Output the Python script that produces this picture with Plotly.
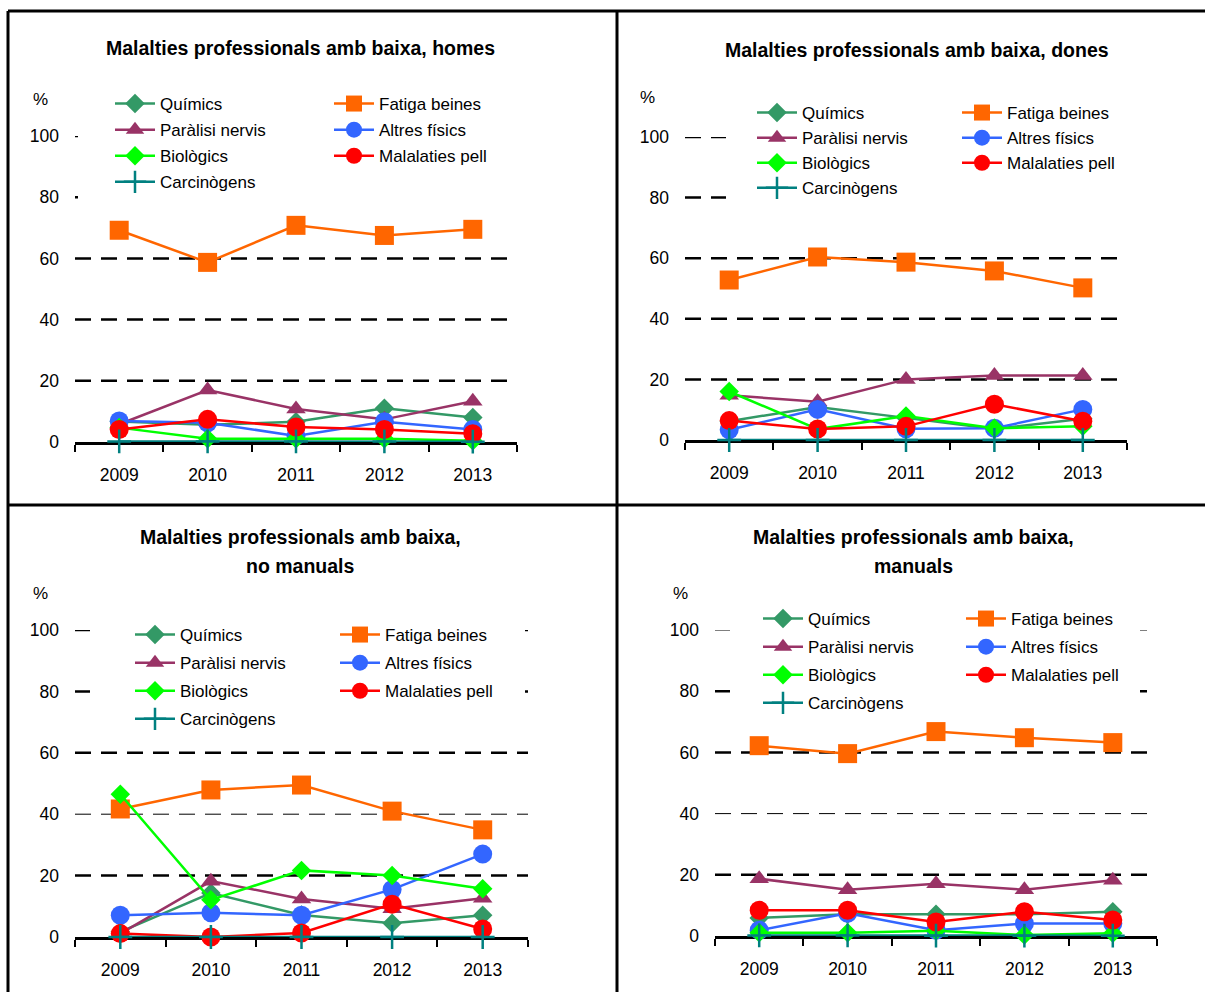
import plotly.graph_objects as go

# ---- data (percent of occupational illnesses with sick leave) ----
years = ["2009", "2010", "2011", "2012", "2013"]

panel_titles = [
    ["Malalties professionals amb baixa, homes"],
    ["Malalties professionals amb baixa, dones"],
    ["Malalties professionals amb baixa,", "no manuals"],
    ["Malalties professionals amb baixa,", "manuals"],
]

# one row per panel: homes, dones, no manuals, manuals
quimics = [
    [6.7, 5.6, 6.6, 11.0, 8.0],
    [6.2, 10.9, 7.3, 3.6, 7.0],
    [1.7, 14.3, 7.2, 4.5, 7.1],
    [5.9, 7.1, 7.1, 7.1, 7.9],
]
fatiga = [
    [69.2, 58.7, 70.8, 67.5, 69.5],
    [52.8, 60.4, 58.7, 55.8, 50.2],
    [41.7, 47.9, 49.5, 41.0, 34.9],
    [62.2, 59.6, 66.8, 64.8, 63.2],
]
paralisi = [
    [5.8, 17.0, 10.8, 7.4, 13.3],
    [14.8, 12.6, 20.0, 21.3, 21.3],
    [1.1, 18.2, 12.4, 9.2, 12.6],
    [18.7, 15.1, 17.1, 15.1, 18.2],
]
altres = [
    [6.9, 6.3, 2.0, 6.6, 4.1],
    [3.4, 10.1, 3.7, 3.9, 10.1],
    [7.1, 7.9, 7.1, 15.5, 27.0],
    [1.9, 7.4, 1.9, 4.1, 4.1],
]
biologics = [
    [4.7, 1.1, 1.1, 1.1, 0.4],
    [16.0, 3.6, 7.9, 3.9, 4.5],
    [46.5, 12.1, 21.7, 20.0, 15.7],
    [1.1, 1.1, 1.7, 0.3, 0.9],
]
pell = [
    [4.1, 7.4, 4.9, 4.1, 2.7],
    [6.4, 3.6, 4.5, 11.8, 6.2],
    [1.1, 0.0, 1.3, 10.7, 2.6],
    [8.4, 8.4, 4.6, 7.9, 5.2],
]
carcinogens = [
    [0.2, 0.2, 0.2, 0.2, 0.1],
    [0.0, 0.0, 0.0, 0.0, 0.0],
    [0.0, 0.0, 0.0, 0.0, 0.0],
    [0.2, 0.2, 0.1, 0.1, 0.1],
]

y_ticks = [0, 20, 40, 60, 80, 100]

# ---- styling ----
W, H = 1205, 992
FONT = "Liberation Sans, Arial, sans-serif"

series = [
    # name, values, color, symbol, size, legend column (0 left / 1 right)
    ("Químics", quimics, "#339966", "diamond", 15, 0),
    ("Fatiga beines", fatiga, "#FF6600", "square", 19, 1),
    ("Paràlisi nervis", paralisi, "#993366", "triangle-up", 17, 0),
    ("Altres físics", altres, "#3366FF", "circle", 19, 1),
    ("Biològics", biologics, "#00FF00", "diamond", 15, 0),
    ("Malalaties pell", pell, "#FF0000", "circle", 19, 1),
    ("Carcinògens", carcinogens, "#008080", "cross-thin", 17, 0),
]

# plot areas in pixels: (left, right, top, bottom)
areas = [
    (75, 517, 136, 442),
    (685, 1127, 137, 440),
    (75, 528, 630, 937),
    (715, 1157, 630, 936),
]
# title centre x and the y of each title line
title_pos = [(300, [48]), (917, [50]), (300, [537, 566]), (913, [537, 566])]
pct_pos = [(40, 99), (647, 97), (40, 593), (680, 593)]
# legend columns: (left px of column, top px), plus extra gap between rows
legend_cols = [
    ((110, 86), (329, 86)),
    ((752, 95), (957, 95)),
    ((130, 617), (335, 617)),
    ((758, 601), (961, 601)),
]
legend_gaps = [1, 0, 3, 3]
# blank area behind each legend that hides the gridlines:
# (left px, right px, lowest value covered)
covers = [
    (78, 520, 70),
    (726, 1130, 70),
    (90, 525, 70),
    (730, 1140, 70),
]
# gridline widths per panel for 20, 40, 60, 80, 100
grid_widths = [
    [2.5, 2.5, 2.5, 2.5, 2.5],
    [2.5, 2.5, 2.5, 2.5, 2.5],
    [2.5, 1.0, 2.5, 2.5, 2.5],
    [2.5, 1.0, 2.5, 2.5, 1.0],
]


def px_x(v):
    return v / W


def px_y(v):
    return 1 - v / H


fig = go.Figure()
xs = list(range(len(years)))

for p in range(4):
    ax = "" if p == 0 else str(p + 1)
    for name, vals, color, sym, size, col in series:
        leg_id = 2 * p + 1 + col
        leg_name = "legend" if leg_id == 1 else f"legend{leg_id}"
        marker = dict(symbol=sym, size=size, color=color)
        if sym == "cross-thin":
            marker["line"] = dict(color=color, width=2.5)
        else:
            marker["line"] = dict(width=0)
        fig.add_trace(go.Scatter(
            x=xs, y=vals[p], name=name, mode="lines+markers",
            line=dict(color=color, width=2.5), marker=marker,
            xaxis="x" + ax, yaxis="y" + ax, legend=leg_name,
            legendgroup=f"{p}-{name}",
            cliponaxis=False, showlegend=True,
        ))

layout = dict(
    template="none",
    width=W, height=H,
    margin=dict(l=0, r=0, t=0, b=0, pad=0, autoexpand=False),
    paper_bgcolor="white", plot_bgcolor="white",
    font=dict(family=FONT, size=17, color="black"),
    showlegend=True, shapes=[], annotations=[],
)

for p in range(4):
    ax = "" if p == 0 else str(p + 1)
    l, r, t, b = areas[p]
    layout["xaxis" + ax] = dict(
        domain=[px_x(l), px_x(r)], anchor="y" + ax,
        range=[-0.5, len(years) - 0.5], tickmode="array",
        tickvals=xs, ticktext=years, ticks="", showgrid=False, zeroline=False,
        showline=True, linecolor="black", linewidth=2.5, layer="below traces",
        ticklabelstandoff=15, tickfont=dict(size=17.5), automargin=False,
        minor=dict(tick0=-0.5, dtick=1, ticks="outside", ticklen=7,
                   tickwidth=2, tickcolor="black", showgrid=False),
        fixedrange=True,
    )
    layout["yaxis" + ax] = dict(
        domain=[px_y(b), px_y(t)], anchor="x" + ax, range=[0, 100],
        tickmode="array", tickvals=y_ticks, showgrid=False, zeroline=False,
        showline=False, ticks="", ticklabelstandoff=15, automargin=False,
        tickfont=dict(size=17.5), fixedrange=True,
    )
    # dashed horizontal gridlines
    for gv, gw in zip(y_ticks[1:], grid_widths[p]):
        layout["shapes"].append(dict(
            type="line", xref=f"x{ax} domain", yref="y" + ax,
            x0=0, x1=1, y0=gv, y1=gv, layer="below",
            line=dict(color="black", width=gw, dash="16px,10px"),
        ))
    # white block under the legend, over the gridlines
    cl, cr, cv = covers[p]
    cover_bottom = b - cv / 100 * (b - t)
    layout["shapes"].append(dict(
        type="rect", xref="paper", yref="paper",
        x0=px_x(cl), x1=px_x(cr), y0=px_y(cover_bottom), y1=px_y(t - 6),
        layer="below", fillcolor="white", line=dict(width=0),
    ))
    # legends, two columns
    for c in range(2):
        leg_id = 2 * p + 1 + c
        leg_name = "legend" if leg_id == 1 else f"legend{leg_id}"
        lx, ly = legend_cols[p][c]
        layout[leg_name] = dict(
            x=px_x(lx), y=px_y(ly), xanchor="left", yanchor="top",
            bgcolor="rgba(0,0,0,0)", borderwidth=0, itemwidth=40,
            font=dict(family=FONT, size=17), tracegroupgap=legend_gaps[p],
            itemclick=False, itemdoubleclick=False,
        )
    tx, tys = title_pos[p]
    for line_text, ty in zip(panel_titles[p], tys):
        layout["annotations"].append(dict(
            text=f"<b>{line_text}</b>", xref="paper", yref="paper",
            x=px_x(tx), y=px_y(ty), xanchor="center", yanchor="middle",
            showarrow=False, font=dict(family=FONT, size=19.5),
        ))
    pxx, pyy = pct_pos[p]
    layout["annotations"].append(dict(
        text="%", xref="paper", yref="paper", x=px_x(pxx), y=px_y(pyy),
        xanchor="center", yanchor="middle", showarrow=False,
        font=dict(family=FONT, size=17),
    ))

# frame lines separating the four panels
frame = [
    (8, 11, W, 11), (8, 11, 8, H), (617, 11, 617, H), (8, 505, W, 505),
]
for x0, y0, x1, y1 in frame:
    layout["shapes"].append(dict(
        type="line", xref="paper", yref="paper",
        x0=px_x(x0), y0=px_y(y0), x1=px_x(x1), y1=px_y(y1),
        line=dict(color="black", width=3), layer="above",
    ))

fig.update_layout(**layout)
fig.write_html("out.html")
